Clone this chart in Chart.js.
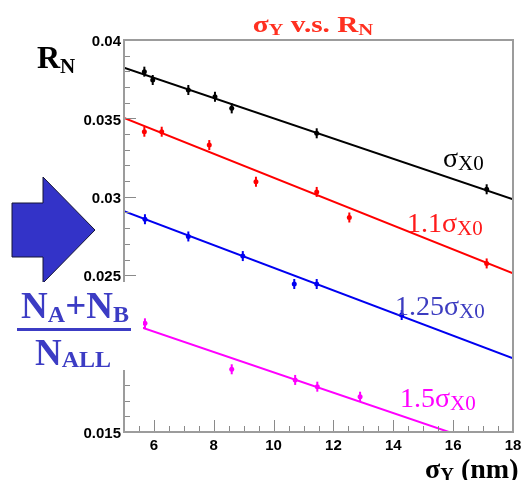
<!DOCTYPE html>
<html>
<head>
<meta charset="utf-8">
<script src="https://cdn.jsdelivr.net/npm/chart.js@4.4.1/dist/chart.umd.min.js"></script>
<style>
  html, body { margin: 0; padding: 0; background: #fff; }
  #wrap { position: relative; width: 530px; height: 480px; overflow: hidden; }
  #wrap canvas, #wrap svg { position: absolute; left: 0; top: 0; }
</style>
</head>
<body>
<div id="wrap">
<canvas id="chart" width="530" height="480"></canvas>
<svg width="530" height="480" font-family="'Liberation Serif', 'Times New Roman', serif">
  <!-- title, slightly wide like the original -->
  <g transform="translate(313,32) scale(1.22,1)">
    <text x="0" y="0" text-anchor="middle" font-size="24" font-weight="bold" fill="#ff3020">σ<tspan font-size="17" dy="3">Y</tspan><tspan dy="-3"> v.s. R</tspan><tspan font-size="17" dy="3">N</tspan></text>
  </g>
  <!-- y axis name -->
  <text x="37" y="68" font-size="32" font-weight="bold" fill="#000">R<tspan font-size="21" dy="5">N</tspan></text>
  <!-- x axis name -->
  <text x="425" y="478" font-size="28" font-weight="bold" fill="#000">σ<tspan font-size="19" dy="3">Y</tspan><tspan dy="-3"> (nm)</tspan></text>

  <!-- arrow and ratio -->
  <polygon points="12,203 43,203 43,177 95,230 43,283 43,257 12,257" fill="#3333c8" stroke="#151535" stroke-width="1"/>
  <rect x="0" y="282" width="143" height="88" fill="#fff"/>
  <text x="75" y="318" text-anchor="middle" font-size="37" font-weight="bold" fill="#3c3cc4">N<tspan font-size="24" dy="4">A</tspan><tspan dy="-4">+N</tspan><tspan font-size="24" dy="4">B</tspan></text>
  <rect x="17" y="328" width="114" height="3" fill="#3c3cc4"/>
  <text x="73" y="365" text-anchor="middle" font-size="37" font-weight="bold" fill="#3c3cc4">N<tspan font-size="24" dy="2">ALL</tspan></text>

  <!-- series labels -->
  <text x="443" y="167" font-size="28" fill="#000">σ<tspan font-size="21" dy="3">X0</tspan></text>
  <text x="407" y="232" font-size="28" fill="#ff1a1a">1.1σ<tspan font-size="21" dy="3">X0</tspan></text>
  <text x="395" y="315" font-size="28" fill="#3c3cc0">1.25σ<tspan font-size="21" dy="3">X0</tspan></text>
  <text x="400" y="407" font-size="28" fill="#ff00ff">1.5σ<tspan font-size="21" dy="3">X0</tspan></text>
</svg>
</div>
<script>
// sigma_Y (nm) and R_N for each sigma_X setting
const x10 = [5.68, 5.96, 7.15, 8.04, 8.60, 11.44, 17.12];
const y10 = [0.03798, 0.03745, 0.03681, 0.03638, 0.03564, 0.03405, 0.03048];

const x11 = [5.68, 6.26, 7.85, 9.41, 11.44, 12.53, 17.12];
const y11 = [0.03415, 0.03415, 0.03330, 0.03096, 0.03031, 0.02868, 0.02575];

const x125 = [5.70, 7.15, 8.97, 10.69, 11.44, 14.28];
const y125 = [0.02857, 0.02747, 0.02622, 0.02444, 0.02444, 0.02246];

const x15 = [5.70, 8.60, 10.72, 11.46, 12.89];
const y15 = [0.02193, 0.01900, 0.01832, 0.01789, 0.01725];

// straight-line fits, ends at sigma_Y = 5 and 18
const fitX = [5, 18];
const fit10 = [0.03823, 0.02984];
const fit11 = [0.03503, 0.02512];
const fit125 = [0.02909, 0.01970];
const fit15 = [0.02205, 0.01361];

const xTickLabels = [6, 8, 10, 12, 14, 16, 18];
const yTickLabels = ['0.015', '0.02', '0.025', '0.03', '0.035', '0.04'];
const yTickValues = yTickLabels.map(parseFloat);

const colors = ['#000000', '#ff0000', '#0000f0', '#ff00ff'];

function pts(xs, ys) {
  return xs.map((x, i) => ({x: x, y: ys[i]}));
}

function fitSet(ys, c) {
  return {data: pts(fitX, ys), showLine: true, borderColor: c, borderWidth: 2,
          pointRadius: 0, tension: 0, order: 2};
}
function pointSet(xs, ys, c) {
  return {data: pts(xs, ys), backgroundColor: c, borderColor: c, pointRadius: 2.5,
          borderWidth: 0, errBar: true, order: 1};
}

// error bars, inner tick marks and the gray frame
const rootFrame = {
  id: 'rootFrame',
  afterDatasetsDraw(chart) {
    const ctx = chart.ctx;
    const a = chart.chartArea;
    const xs = chart.scales.x, ys = chart.scales.y;
    ctx.save();
    chart.data.datasets.forEach((ds, i) => {
      if (!ds.errBar) return;
      ctx.strokeStyle = ds.borderColor;
      ctx.lineWidth = 2;
      chart.getDatasetMeta(i).data.forEach(p => {
        ctx.beginPath();
        ctx.moveTo(p.x, p.y - 5);
        ctx.lineTo(p.x, p.y + 5);
        ctx.stroke();
      });
    });

    ctx.strokeStyle = '#8a8a8a';
    ctx.lineWidth = 1;
    ctx.beginPath();
    for (let k = 10; k <= 36; k++) {
      const v = k / 2;
      const px = Math.round(xs.getPixelForValue(v)) + 0.5;
      const len = xTickLabels.includes(v) ? 12 : 6;
      ctx.moveTo(px, a.bottom);
      ctx.lineTo(px, a.bottom - len);
    }
    for (let k = 15; k <= 40; k++) {
      const py = Math.round(ys.getPixelForValue(k / 1000)) + 0.5;
      const len = k % 5 === 0 ? 12 : 6;
      ctx.moveTo(a.left, py);
      ctx.lineTo(a.left + len, py);
    }
    ctx.stroke();

    ctx.strokeStyle = '#9c9c9c';
    ctx.lineWidth = 2;
    ctx.strokeRect(a.left, a.top, a.right - a.left, a.bottom - a.top);
    ctx.restore();
  }
};

const tickFont = {family: "'Liberation Sans', Arial, sans-serif", weight: 'bold', size: 15};

new Chart(document.getElementById('chart'), {
  type: 'scatter',
  data: {
    datasets: [
      fitSet(fit10, colors[0]), pointSet(x10, y10, colors[0]),
      fitSet(fit11, colors[1]), pointSet(x11, y11, colors[1]),
      fitSet(fit125, colors[2]), pointSet(x125, y125, colors[2]),
      fitSet(fit15, colors[3]), pointSet(x15, y15, colors[3])
    ]
  },
  options: {
    responsive: false,
    devicePixelRatio: 1,
    animation: false,
    layout: {padding: {top: 40, right: 17, left: 0, bottom: 0}},
    plugins: {legend: {display: false}, tooltip: {enabled: false}},
    scales: {
      x: {
        type: 'linear', min: 5, max: 18,
        afterBuildTicks: s => { s.ticks = xTickLabels.map(v => ({value: v})); },
        afterFit: s => { s.height = 48; },
        grid: {display: false, drawTicks: false},
        border: {display: false},
        ticks: {font: tickFont, color: '#000', padding: 5, maxRotation: 0, autoSkip: false}
      },
      y: {
        type: 'linear', min: 0.015, max: 0.04,
        afterBuildTicks: s => { s.ticks = yTickValues.map(v => ({value: v})); },
        afterFit: s => { s.width = 124; },
        grid: {display: false, drawTicks: false},
        border: {display: false},
        ticks: {font: tickFont, color: '#000', padding: 3, labelOffset: 2, autoSkip: false,
                callback: (v, i) => yTickLabels[i]}
      }
    }
  },
  plugins: [rootFrame]
});
</script>
</body>
</html>
